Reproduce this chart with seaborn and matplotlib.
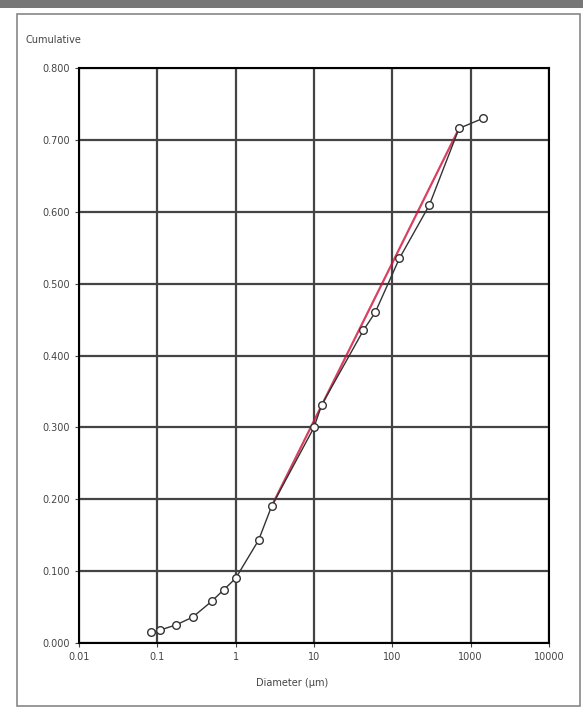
import numpy as np
import pandas as pd
import matplotlib
matplotlib.use('Agg')
import matplotlib.pyplot as plt
import seaborn as sns
from matplotlib.patches import Rectangle

# data
diameter = [0.083, 0.108, 0.172, 0.283, 0.494, 0.703, 1.0, 1.96, 2.87,
             10.0, 12.5, 42.7, 60.5, 123, 296, 711, 1440]
cumulative = [0.015, 0.018, 0.025, 0.036, 0.058, 0.074, 0.090, 0.143, 0.190,
              0.300, 0.331, 0.435, 0.460, 0.535, 0.609, 0.716, 0.730]
fit_x = [2.87, 711]
fit_y = [0.190, 0.716]
x_ticks = [0.01, 0.1, 1, 10, 100, 1000, 10000]
x_labels = ['0.01', '0.1', '1', '10', '100', '1000', '10000']
y_ticks = [0.0, 0.1, 0.2, 0.3, 0.4, 0.5, 0.6, 0.7, 0.8]

sns.set_style('white')
plt.rcParams['font.family'] = ['DejaVu Sans']

fig = plt.figure(figsize=(5.83, 7.08), dpi=100)
ax = fig.add_axes([79 / 583, 1 - 643 / 708, (549 - 79) / 583, (643 - 68) / 708])

df = pd.DataFrame({'d': diameter, 'c': cumulative})
sns.lineplot(data=df, x='d', y='c', ax=ax, color='#333333', lw=1.0,
             marker='o', markersize=5.5, markerfacecolor='white',
             markeredgecolor='#333333', markeredgewidth=1.0)
ax.plot(fit_x, fit_y, color='#d0103a', lw=1.6, alpha=0.8, zorder=1)

ax.set_xscale('log')
ax.set_xlim(0.01, 10000)
ax.set_ylim(0, 0.8)
ax.set_xticks(x_ticks)
ax.set_xticklabels(x_labels)
ax.set_yticks(y_ticks)
ax.set_yticklabels([f'{v:.3f}' for v in y_ticks])
ax.minorticks_off()
ax.grid(True, color='#444444', lw=1.6)
ax.tick_params(labelsize=7, colors='#444444', length=3, direction='out',
               left=True, bottom=True)
for s in ax.spines.values():
    s.set_color('black')
    s.set_linewidth(1.5)

# x label sits a bit left of the axis centre in the reference
ax.set_xlabel('Diameter (μm)', fontsize=7, color='#444444')
ax.xaxis.set_label_coords((292 - 79) / (549 - 79), -0.06)
ax.set_ylabel('')
fig.text(25 / 583, 1 - 40 / 708, 'Cumulative', fontsize=7, color='#444444',
         va='center')

# outer frame of the panel
fig.patches.append(Rectangle((17 / 583, 0.003), 1 - 20 / 583, 1 - 16 / 708,
                             transform=fig.transFigure, fill=False,
                             edgecolor='#888888', lw=1.2))
fig.patches.append(Rectangle((0, 1 - 8 / 708), 1, 8 / 708,
                             transform=fig.transFigure, facecolor='#777777',
                             edgecolor='none'))

fig.savefig('out.png', dpi=100)
